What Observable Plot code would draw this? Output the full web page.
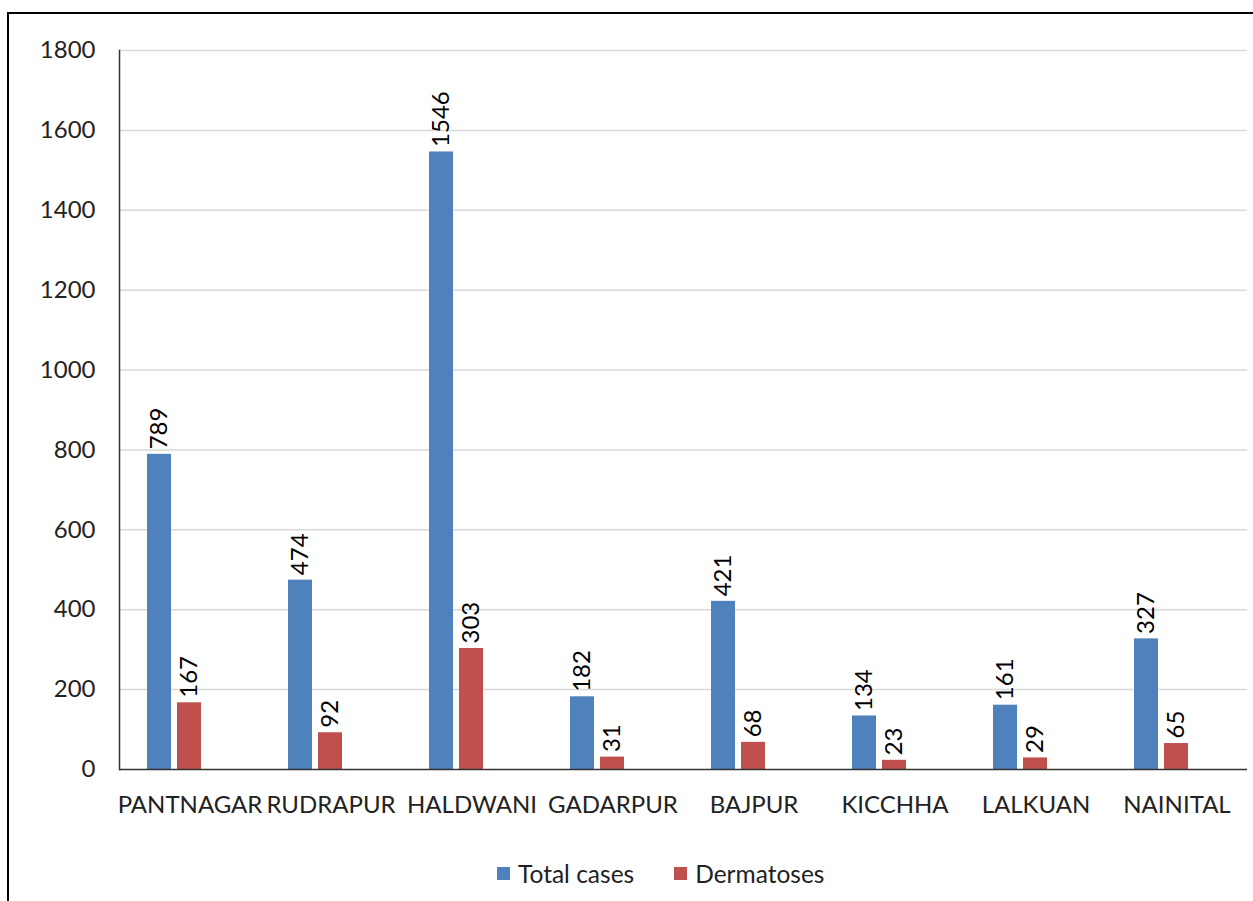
<!DOCTYPE html>
<html>
<head>
<meta charset="utf-8">
<script src="https://cdn.jsdelivr.net/npm/d3@7"></script>
<script src="https://cdn.jsdelivr.net/npm/@observablehq/plot@0.6"></script>
<style>
  html, body { margin: 0; padding: 0; background: #fff; overflow: hidden; }
  #wrap { position: relative; width: 1253px; height: 901px; font-family: Lato, sans-serif; }
  #chart { position: absolute; left: 0; top: 0; }
  #frame { position: absolute; left: 7px; top: 12px; width: 2000px; height: 2000px;
           border-left: 2px solid #000; border-top: 2px solid #000; pointer-events: none; }
  #legend { position: absolute; left: 497px; top: 859px; display: flex; align-items: center;
            font-size: 24.5px; color: #222; white-space: nowrap; }
  .item { display: flex; align-items: center; }
  .sw { width: 13px; height: 13px; margin-right: 8px; }
</style>
</head>
<body>
<div id="wrap">
  <div id="chart"></div>
  <div id="legend"></div>
  <div id="frame"></div>
</div>
<script>
const categories = ["PANTNAGAR", "RUDRAPUR", "HALDWANI", "GADARPUR", "BAJPUR", "KICCHHA", "LALKUAN", "NAINITAL"];
const totalCases = [789, 474, 1546, 182, 421, 134, 161, 327];
const dermatoses = [167, 92, 303, 31, 68, 23, 29, 65];
const seriesNames = ["Total cases", "Dermatoses"];
const seriesColors = ["#4F81BD", "#C0504D"];
const yTicks = [0, 200, 400, 600, 800, 1000, 1200, 1400, 1600, 1800];

const data = categories.flatMap((c, i) => [
  {cat: c, series: seriesNames[0], value: totalCases[i]},
  {cat: c, series: seriesNames[1], value: dermatoses[i]}
]);

const chart = Plot.plot({
  width: 1253,
  height: 845,
  marginLeft: 118,
  marginRight: 5,
  marginTop: 50,
  marginBottom: 76,
  style: {fontFamily: "Lato, sans-serif", fontSize: "24px", background: "transparent", color: "#222"},
  fx: {domain: categories, paddingInner: 0, paddingOuter: 0, label: null},
  x: {domain: [...seriesNames, "_"], paddingInner: 6 / 31, paddingOuter: 0.875, axis: null},
  y: {domain: [0, 1800], label: null},
  color: {domain: seriesNames, range: seriesColors},
  marks: [
    Plot.ruleY(yTicks.slice(1), {stroke: "#d9d9d9", strokeWidth: 1.5}),
    Plot.axisY({ticks: yTicks, tickFormat: d => String(d), tickSize: 0, tickPadding: 24, label: null, fontSize: 24, fill: "#222"}),
    Plot.axisFx({anchor: "bottom", tickSize: 0, tickPadding: 26, label: null, fontSize: 24, fill: "#222"}),
    Plot.barY(data, {fx: "cat", x: "series", y: "value", fill: "series"}),
    Plot.text(data, {fx: "cat", x: "series", y: "value", text: d => String(d.value),
      rotate: -90, textAnchor: "start", lineAnchor: "middle", dy: -5, fill: "#000", fontSize: 24}),
    Plot.ruleY([0], {stroke: "#333", strokeWidth: 1.5}),
    Plot.frame({anchor: "left", facetAnchor: "left", stroke: "#333", strokeWidth: 1.5})
  ]
});
document.getElementById("chart").appendChild(chart);

const legend = document.getElementById("legend");
seriesNames.forEach((name, i) => {
  const item = document.createElement("div");
  item.className = "item";
  if (i > 0) item.style.marginLeft = "40px";
  const sw = document.createElement("div");
  sw.className = "sw";
  sw.style.background = seriesColors[i];
  const label = document.createElement("span");
  label.textContent = name;
  item.appendChild(sw);
  item.appendChild(label);
  legend.appendChild(item);
});
</script>
</body>
</html>
